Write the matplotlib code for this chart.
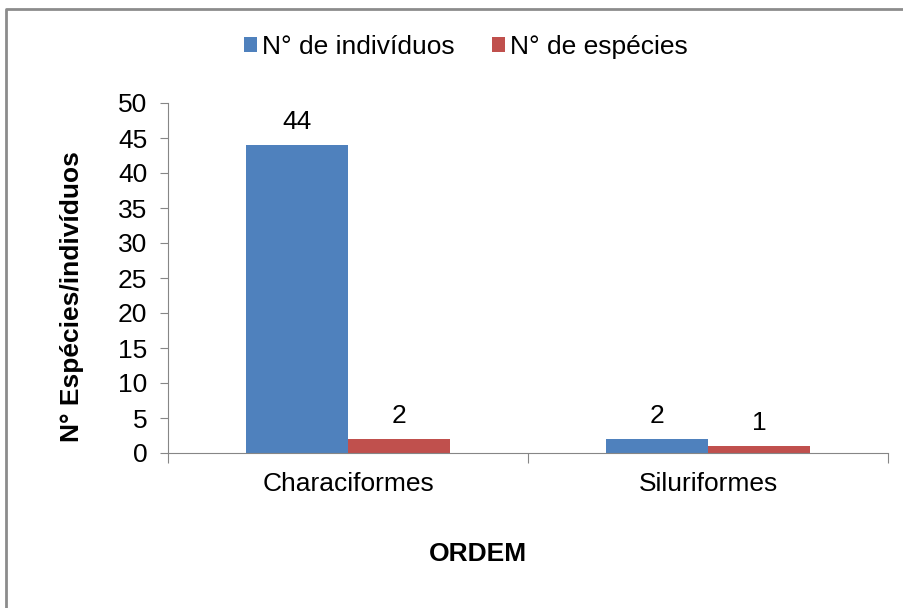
import matplotlib
matplotlib.use("Agg")
import matplotlib.pyplot as plt
from matplotlib.lines import Line2D
import numpy as np

categories = ["Characiformes", "Siluriformes"]
individuos = [44, 2]
especies = [2, 1]
series_names = ["N° de indivíduos", "N° de espécies"]
yticks = [0, 5, 10, 15, 20, 25, 30, 35, 40, 45, 50]

plt.rcParams['font.family'] = ['Liberation Sans', 'DejaVu Sans']
FS = 19

fig = plt.figure(figsize=(9.04, 6.08), dpi=100)
ax = fig.add_axes([168/904, 1-453/608, 720/904, 350/608])

x = np.arange(len(categories)) + 0.5
w = 0.2833
c1, c2 = "#4F81BD", "#C0504D"
b1 = ax.bar(x - w/2, individuos, w, color=c1, label=series_names[0])
b2 = ax.bar(x + w/2, especies, w, color=c2, label=series_names[1])
for bars, vals in ((b1, individuos), (b2, especies)):
    for r, v in zip(bars, vals):
        ax.annotate(str(v), (r.get_x() + r.get_width()/2, v), xytext=(0, 8),
                    textcoords="offset points", ha="center", va="bottom", fontsize=FS)

ax.set_xlim(0, len(categories))
ax.set_ylim(0, 50)
ax.set_yticks(yticks)
ax.set_xticks([0, 1, 2])
ax.set_xticklabels([])
ax.set_xticks(x, minor=True)
ax.set_xticklabels(categories, minor=True, fontsize=FS)
ax.tick_params(axis='x', which='minor', length=0, pad=14)
ax.tick_params(axis='x', which='major', length=7, color='#868686', direction='out')
ax.tick_params(axis='y', length=6, color='#868686', labelsize=FS, pad=9)
for s in ("top", "right"):
    ax.spines[s].set_visible(False)
for s in ("left", "bottom"):
    ax.spines[s].set_color('#868686')

ax.set_ylabel("N° Espécies/indivíduos", fontsize=FS, fontweight='bold')
ax.yaxis.set_label_coords(-0.116, 0.446)
fig.text(478/904, 1-554/608, "ORDEM", ha="center", va="center", fontsize=FS, fontweight='bold')

leg = fig.legend(handles=[b1, b2], loc="center", bbox_to_anchor=(466/904, 1-47/608), ncol=2,
                 frameon=False, fontsize=FS, handlelength=0.5, handleheight=0.5,
                 handletextpad=0.2, columnspacing=1.4)

fig.add_artist(Line2D([6/904, 6/904, 1.0], [0, 1-9/608, 1-9/608], transform=fig.transFigure,
                      color='#8c8c8c', lw=2))

fig.savefig("out.png", dpi=100)
